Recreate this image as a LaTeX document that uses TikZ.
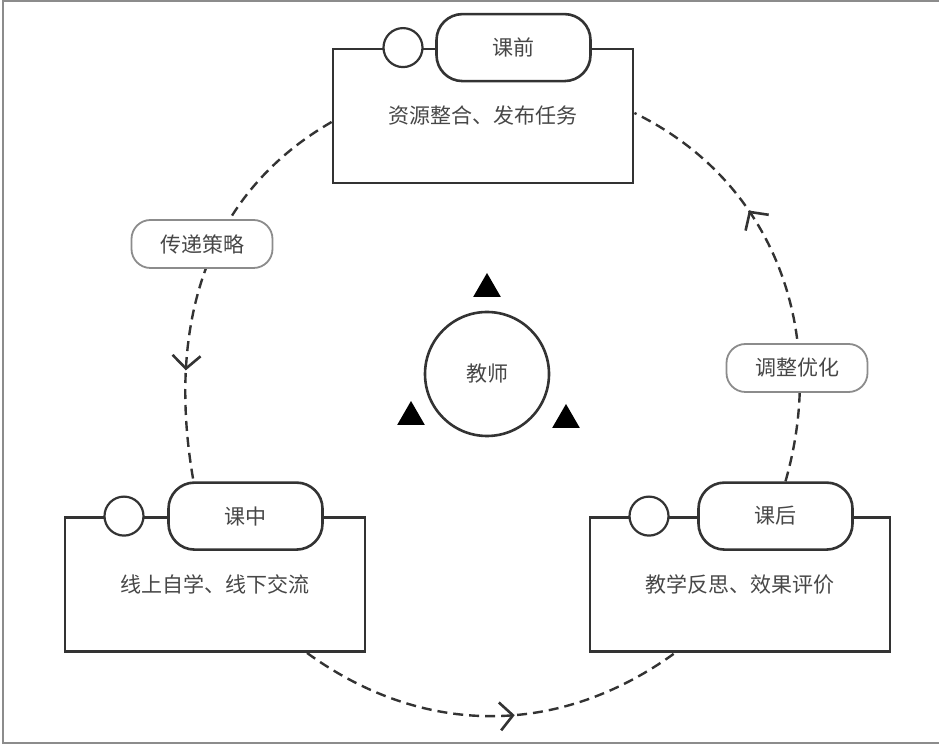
\documentclass[tikz,border=0pt]{standalone}
\usepackage{fontspec}
\newfontfamily\cjk{Noto Sans CJK SC}
\usetikzlibrary{arrows.meta,decorations.markings,shapes.geometric}

\def\linec{black!80}
\def\textc{black!72}
\def\cnfont{\cjk\fontsize{21}{25}\selectfont}
\def\boxwd{300pt}
\def\boxht{134pt}

\tikzset{
  barb/.tip={Straight Barb[length=13pt,width=28pt,line width=2.6pt]},
  stage/.style={draw=\linec, line width=2.8pt, minimum width=\boxwd,
    minimum height=\boxht, text=\textc, font=\cnfont},
  tag/.style={draw=\linec, line width=2.6pt, fill=white, rounded corners=26pt,
    minimum width=154pt, minimum height=67pt, text=\textc, font=\cnfont},
  port/.style={circle, draw=\linec, line width=2.2pt, fill=white,
    minimum size=39pt, inner sep=0pt},
  hint/.style={draw=black!45, line width=1.8pt, fill=white, rounded corners=19pt,
    minimum width=141pt, minimum height=48pt, text=\textc, font=\cnfont},
  spike/.style={regular polygon, regular polygon sides=3, fill=black,
    minimum size=32pt, inner sep=0pt},
  flow/.style={draw=\linec, line width=2.4pt, dash pattern=on 10pt off 6pt},
  tipat/.style={postaction={decorate}, decoration={markings,
    mark=at position #1 with {\arrow[solid]{barb}}}}
}

\begin{document}
\begin{tikzpicture}[x=1pt, y=1pt]
\useasboundingbox (0,0) rectangle (939,744);
% frame
\draw [black!45, line width=2pt] (939,743) -- (2.5,743) -- (2.5,1.5) -- (939,1.5);

% three stages
\node [stage] (qian) at (483,628) {资源整合、发布任务};
\node [tag] (qian-tag) at ([xshift=30.5pt]qian.north) {课前};
\node [port] (qian-port) at ([xshift=-80pt]qian.north) {};

\node [stage] (zhong) at (215,159.5) {线上自学、线下交流};
\node [tag] (zhong-tag) at ([xshift=30.5pt]zhong.north) {课中};
\node [port] (zhong-port) at ([xshift=-91pt]zhong.north) {};

\node [stage] (hou) at (740,159.5) {教学反思、效果评价};
\node [tag] (hou-tag) at ([xshift=35.5pt]hou.north) {课后};
\node [port] (hou-port) at ([xshift=-91pt]hou.north) {};

% teacher in the middle
\node [circle, draw=\linec, line width=2.6pt, minimum size=124pt,
  text=\textc, font=\cnfont] (jiaoshi) at (487,370) {教师};
\node [spike] (spike-top) at (487,455) {};
\node [spike] (spike-left) at (411,327) {};
\node [spike] (spike-right) at (566,324) {};

% cycle
\draw [flow, tipat=0.73] ([yshift=-6pt]qian.west)
  to [out=210, in=100] ([xshift=-52pt]zhong-tag.north);
\draw [flow, tipat=0.56] ([xshift=92pt]zhong.south)
  to [out=-36, in=216] ([xshift=-65pt]hou.south);
\draw [flow, tipat=0.65] ([xshift=10pt]hou-tag.north)
  to [out=74, in=-26] ([yshift=3pt]qian.east);

\node [hint] (chuandi) at (202,500) {传递策略};
\node [hint] (tiaozheng) at (797,376) {调整优化};
\end{tikzpicture}
\end{document}
